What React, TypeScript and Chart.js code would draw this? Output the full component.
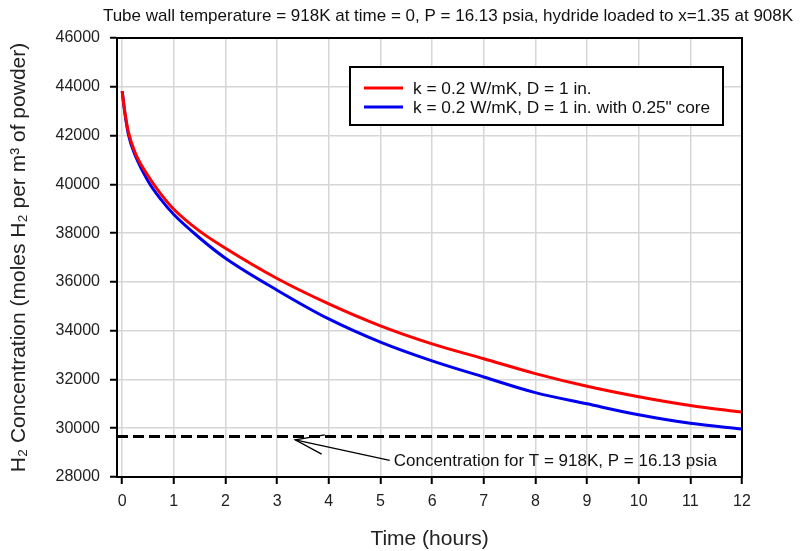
import React, { useEffect, useRef } from "react";
import { Chart, registerables } from "chart.js";

Chart.register(...registerables);

const timeHours = [0, 0.05, 0.12, 0.25, 0.5, 0.75, 1, 1.5, 2, 3, 4, 5, 6, 7, 8, 9, 10, 11, 12];
const solidCore = [43820, 43000, 42150, 41300, 40350, 39600, 38980, 38080, 37380, 36140, 35100, 34200, 33460, 32850, 32240, 31720, 31290, 30930, 30660];
const withCore = [43820, 42950, 42050, 41200, 40140, 39380, 38760, 37800, 36970, 35660, 34480, 33530, 32760, 32100, 31460, 31000, 30550, 30200, 29970];
const equilibriumTimes = [-0.1, 12];
const equilibriumValue = 29660;
const xTicks = [0, 1, 2, 3, 4, 5, 6, 7, 8, 9, 10, 11, 12];
const yTicks = [28000, 30000, 32000, 34000, 36000, 38000, 40000, 42000, 44000, 46000];
const seriesLabels = ["k = 0.2 W/mK, D = 1 in.", "k = 0.2 W/mK, D = 1 in. with 0.25\" core"];
const titleText = "Tube wall temperature = 918K at time = 0, P = 16.13 psia, hydride loaded to x=1.35 at 908K";
const annotationText = "Concentration for T = 918K, P = 16.13 psia";

const FONT = "'Liberation Sans', Arial, sans-serif";

const decorPlugin = {
  id: "decor",
  afterDatasetsDraw(chart: any) {
    const { ctx, chartArea, scales } = chart;
    ctx.save();
    // frame
    ctx.strokeStyle = "#000";
    ctx.lineWidth = 2;
    ctx.strokeRect(chartArea.left, chartArea.top, chartArea.right - chartArea.left, chartArea.bottom - chartArea.top);

    // annotation arrow
    const xs = scales.x, ys = scales.y;
    const tipX = xs.getPixelForValue(3.35), tipY = ys.getPixelForValue(29520);
    const tailX = xs.getPixelForValue(5.18), tailY = ys.getPixelForValue(28680);
    ctx.strokeStyle = "#000";
    ctx.lineWidth = 1.3;
    ctx.beginPath();
    ctx.moveTo(tailX, tailY);
    ctx.lineTo(tipX, tipY);
    ctx.stroke();
    const ang = Math.atan2(tailY - tipY, tailX - tipX);
    const len = 30;
    ctx.beginPath();
    ctx.moveTo(tipX + len * Math.cos(ang + 0.28), tipY + len * Math.sin(ang + 0.28));
    ctx.lineTo(tipX, tipY);
    ctx.lineTo(tipX + len * Math.cos(ang - 0.38), tipY + len * Math.sin(ang - 0.38));
    ctx.stroke();
    ctx.fillStyle = "#111";
    ctx.font = `17px ${FONT}`;
    ctx.textBaseline = "middle";
    ctx.textAlign = "left";
    ctx.fillText(annotationText, tailX + 4, tailY + 1);

    // legend box
    const lx = 350, ly = 67, lw = 373, lh = 58;
    ctx.fillStyle = "#fff";
    ctx.fillRect(lx, ly, lw, lh);
    ctx.strokeStyle = "#000";
    ctx.lineWidth = 2;
    ctx.strokeRect(lx, ly, lw, lh);
    const ds = chart.data.datasets;
    [0, 1].forEach((i) => {
      const y = ly + 21 + i * 19;
      ctx.strokeStyle = ds[i].borderColor;
      ctx.lineWidth = 3;
      ctx.beginPath();
      ctx.moveTo(lx + 14, y);
      ctx.lineTo(lx + 53, y);
      ctx.stroke();
      ctx.fillStyle = "#111";
      ctx.font = `17.3px ${FONT}`;
      ctx.textBaseline = "middle";
      ctx.fillText(ds[i].label, lx + 63, y + 1);
    });

    // title
    ctx.fillStyle = "#111";
    ctx.font = `17px ${FONT}`;
    ctx.textAlign = "center";
    ctx.textBaseline = "middle";
    ctx.fillText(titleText, 448, 16);
    ctx.restore();
  },
};

export default function App() {
  const ref = useRef<HTMLCanvasElement>(null);
  useEffect(() => {
    if (!ref.current) return;
    const chart = new Chart(ref.current, {
      type: "line",
      data: {
        datasets: [
          {
            label: seriesLabels[0],
            data: timeHours.map((t, i) => ({ x: t, y: solidCore[i] })),
            borderColor: "#ff0000",
            borderWidth: 3,
            pointRadius: 0,
            cubicInterpolationMode: "monotone",
          },
          {
            label: seriesLabels[1],
            data: timeHours.map((t, i) => ({ x: t, y: withCore[i] })),
            borderColor: "#0000ee",
            borderWidth: 3,
            pointRadius: 0,
            cubicInterpolationMode: "monotone",
          },
          {
            label: "equilibrium",
            data: equilibriumTimes.map((t) => ({ x: t, y: equilibriumValue })),
            borderColor: "#000",
            borderWidth: 3,
            borderDash: [11, 5],
            pointRadius: 0,
          },
        ],
      },
      options: {
        responsive: false,
        animation: false,
        layout: { padding: { top: 38, right: 59, left: 0, bottom: 0 } },
        plugins: { legend: { display: false }, tooltip: { enabled: false }, title: { display: false } },
        scales: {
          x: {
            type: "linear",
            min: -0.1,
            max: 12,
            afterBuildTicks: (s: any) => { s.ticks = xTicks.map((v) => ({ value: v })); },
            afterFit: (s: any) => { s.height = 74; },
            grid: { color: "#d6d6d6", lineWidth: 1.5, tickColor: "#000", tickWidth: 2, tickLength: 7 },
            border: { color: "#000", width: 2 },
            ticks: { color: "#222", font: { family: FONT, size: 16 }, padding: 8, maxRotation: 0 },
            title: { display: true, text: "Time (hours)", color: "#222", font: { family: FONT, size: 21 }, padding: { top: 0, bottom: -1 } },
          },
          y: {
            type: "linear",
            min: 28000,
            max: 46000,
            afterBuildTicks: (s: any) => { s.ticks = yTicks.map((v) => ({ value: v })); },
            afterFit: (s: any) => { s.width = 117; },
            grid: { color: "#d6d6d6", lineWidth: 1.5, tickColor: "#000", tickWidth: 2, tickLength: 7 },
            border: { color: "#000", width: 2 },
            ticks: { color: "#222", font: { family: FONT, size: 16 }, padding: 10, callback: (v: any) => String(v) },
            title: { display: true, text: "H\u2082 Concentration (moles H\u2082 per m\u00B3 of powder)", color: "#222", font: { family: FONT, size: 21 }, padding: { top: 7, bottom: 0 } },
          },
        },
      },
      plugins: [decorPlugin],
    } as any);
    return () => chart.destroy();
  }, []);
  return (
    <div style={{ position: "fixed", left: 0, top: 0, width: 801, height: 551, background: "#fff" }}>
      <canvas ref={ref} width={801} height={551} />
    </div>
  );
}
